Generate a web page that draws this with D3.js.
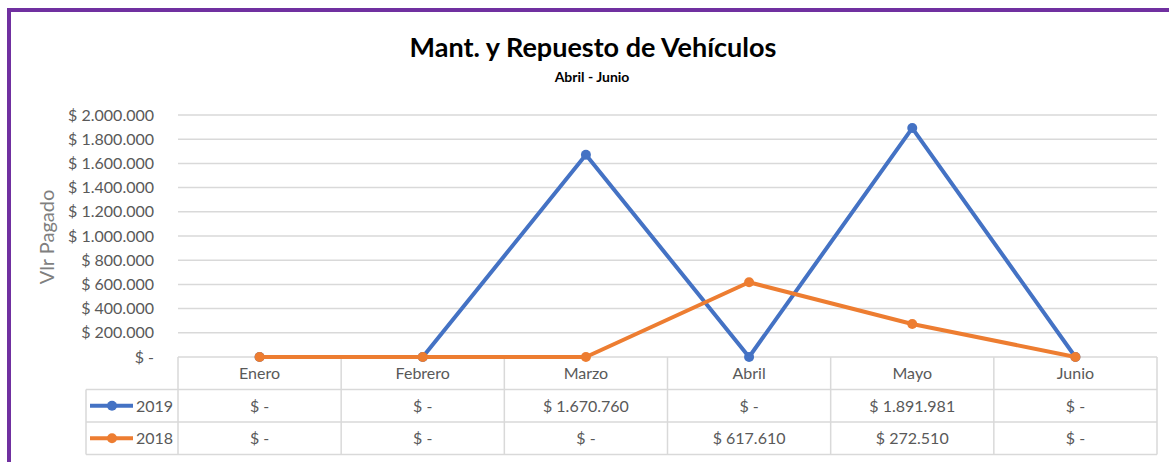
<!DOCTYPE html>
<html>
<head>
<meta charset="utf-8">
<script src="https://cdn.jsdelivr.net/npm/d3@7"></script>
<style>
  body { margin: 0; background: #fff; }
  text { font-family: Lato, "Open Sans", sans-serif; }
</style>
</head>
<body>
<div id="chart"></div>
<script>
// data
var months = ["Enero", "Febrero", "Marzo", "Abril", "Mayo", "Junio"];
var values2019 = [0, 0, 1670760, 0, 1891981, 0];
var values2018 = [0, 0, 0, 617610, 272510, 0];
var yTicks = [0, 200000, 400000, 600000, 800000, 1000000, 1200000, 1400000, 1600000, 1800000, 2000000];

var series = [
  {name: "2019", values: values2019, color: "#4472C4"},
  {name: "2018", values: values2018, color: "#ED7D31"}
];

var W = 1169, H = 462;
var plotLeft = 178, plotRight = 1157, plotTop = 115, plotBottom = 357;
var rowH = 32.5;

// money format like "$ 1.670.760", zero as "$ -"
function money(v) {
  if (v === 0) return "$ -";
  return "$ " + d3.format(",")(v).replace(/,/g, ".");
}

var svg = d3.select("#chart").append("svg")
    .attr("width", W)
    .attr("height", H);

// purple frame (top + left)
svg.append("line").attr("x1", 7).attr("x2", W).attr("y1", 10).attr("y2", 10)
    .attr("stroke", "#7030A0").attr("stroke-width", 4);
svg.append("line").attr("x1", 9).attr("x2", 9).attr("y1", 8).attr("y2", H)
    .attr("stroke", "#7030A0").attr("stroke-width", 4);

// titles
svg.append("text")
    .attr("x", 593).attr("y", 57)
    .attr("text-anchor", "middle")
    .attr("font-size", 27).attr("font-weight", "bold").attr("fill", "#000")
    .text("Mant. y Repuesto de Vehículos");
svg.append("text")
    .attr("x", 592).attr("y", 82)
    .attr("text-anchor", "middle")
    .attr("font-size", 14).attr("font-weight", "bold").attr("fill", "#000")
    .text("Abril - Junio");

var x = d3.scaleBand().domain(months).range([plotLeft, plotRight]);
var y = d3.scaleLinear().domain([0, 2000000]).range([plotBottom, plotTop]);

// gridlines
svg.append("g")
  .selectAll("line")
  .data(yTicks.filter(function(d) { return d > 0; }))
  .enter().append("line")
    .attr("x1", plotLeft).attr("x2", plotRight)
    .attr("y1", function(d) { return y(d); })
    .attr("y2", function(d) { return y(d); })
    .attr("stroke", "#d9d9d9").attr("stroke-width", 1.5);

// y axis
var yAxis = svg.append("g")
    .attr("transform", "translate(" + (plotLeft - 21) + ",0)")
    .call(d3.axisLeft(y).tickValues(yTicks).tickFormat(money).tickSize(0));
yAxis.select(".domain").remove();
yAxis.selectAll("text")
    .attr("fill", "#595959").attr("font-size", 16)
    .style("font-family", "Lato, sans-serif");

svg.append("text")
    .attr("transform", "translate(54,237) rotate(-90)")
    .attr("text-anchor", "middle")
    .attr("font-size", 20).attr("fill", "#7f7f7f")
    .text("Vlr Pagado");

// data table
var tableLeft = 86;
var tableBottom = plotBottom + rowH * 3;
var grid = svg.append("g").attr("stroke", "#d9d9d9").attr("stroke-width", 1.5);
// horizontal lines
[plotBottom, plotBottom + rowH, plotBottom + rowH * 2, tableBottom].forEach(function(yy, i) {
  grid.append("line")
    .attr("x1", i === 0 ? plotLeft : tableLeft).attr("x2", plotRight)
    .attr("y1", yy).attr("y2", yy);
});
// vertical lines
months.forEach(function(m) {
  grid.append("line")
    .attr("x1", x(m)).attr("x2", x(m))
    .attr("y1", plotBottom).attr("y2", tableBottom);
});
grid.append("line").attr("x1", plotRight).attr("x2", plotRight).attr("y1", plotBottom).attr("y2", tableBottom);
grid.append("line").attr("x1", tableLeft).attr("x2", tableLeft).attr("y1", plotBottom + rowH).attr("y2", tableBottom);

// category header
svg.append("g").selectAll("text")
  .data(months).enter().append("text")
    .attr("x", function(d) { return x(d) + x.bandwidth() / 2; })
    .attr("y", plotBottom + rowH / 2 + 6)
    .attr("text-anchor", "middle")
    .attr("font-size", 16).attr("fill", "#595959")
    .text(function(d) { return d; });

// rows
series.forEach(function(s, i) {
  var cy = plotBottom + rowH * (i + 1) + rowH / 2;
  var row = svg.append("g");
  row.append("line")
    .attr("x1", 90).attr("x2", 133).attr("y1", cy).attr("y2", cy)
    .attr("stroke", s.color).attr("stroke-width", 4);
  row.append("circle")
    .attr("cx", 112).attr("cy", cy).attr("r", 5).attr("fill", s.color);
  row.append("text")
    .attr("x", 136).attr("y", cy + 6)
    .attr("font-size", 16).attr("fill", "#595959")
    .text(s.name);
  row.selectAll("text.val")
    .data(s.values).enter().append("text")
      .attr("class", "val")
      .attr("x", function(d, j) { return x(months[j]) + x.bandwidth() / 2; })
      .attr("y", cy + 6)
      .attr("text-anchor", "middle")
      .attr("font-size", 16).attr("fill", "#595959")
      .text(money);
});

// lines
var line = d3.line()
    .x(function(d, j) { return x(months[j]) + x.bandwidth() / 2; })
    .y(function(d) { return y(d); });

series.forEach(function(s) {
  var g = svg.append("g");
  g.append("path")
    .datum(s.values)
    .attr("fill", "none")
    .attr("stroke", s.color)
    .attr("stroke-width", 4)
    .attr("stroke-linejoin", "round")
    .attr("d", line);
  g.selectAll("circle")
    .data(s.values).enter().append("circle")
      .attr("cx", function(d, j) { return x(months[j]) + x.bandwidth() / 2; })
      .attr("cy", function(d) { return y(d); })
      .attr("r", 5)
      .attr("fill", s.color);
});
</script>
</body>
</html>
